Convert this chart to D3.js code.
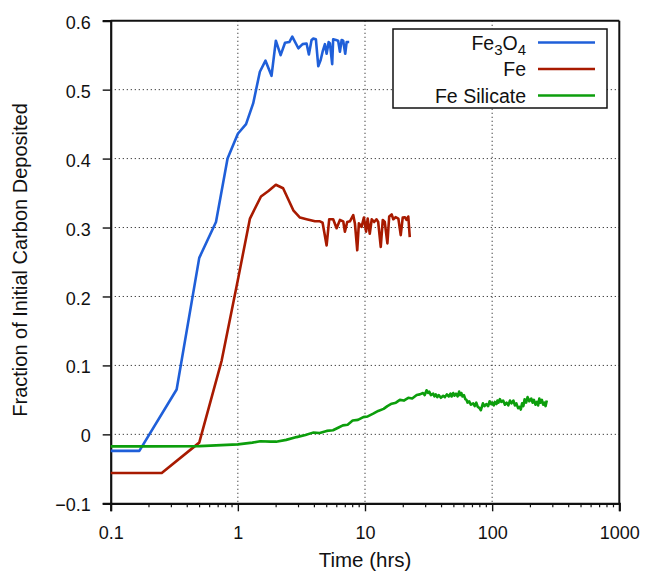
<!DOCTYPE html>
<html>
<meta charset="utf-8">
<script src="https://d3js.org/d3.v7.min.js"></script>
<style>
  body { margin: 0; background: #fff; }
  text { font-family: "Liberation Sans", Arial, sans-serif; fill: #111; }
</style>
<body>
<div id="chart"></div>
<script>

    // Fe3O4
    var fe3o4Time = [0.1, 0.168, 0.33, 0.497, 0.673, 0.83, 1.0, 1.16, 1.32, 1.49, 1.65, 1.84, 1.99, 2.17, 2.35,
      2.54, 2.68, 2.99, 3.23, 3.47, 3.62, 3.80, 3.92, 4.11, 4.29, 4.48, 4.64, 4.84, 4.99, 5.18,
      5.30, 5.52, 5.62, 5.91, 6.15, 6.35, 6.55, 6.74, 6.99, 7.17, 7.51];
    var fe3o4Frac = [-0.024, -0.024, 0.065, 0.256, 0.308, 0.40, 0.436, 0.45, 0.48, 0.526, 0.542, 0.52, 0.571, 0.55, 0.568,
      0.569, 0.577, 0.56, 0.566, 0.567, 0.551, 0.572, 0.574, 0.573, 0.534, 0.543, 0.555, 0.566, 0.552, 0.569,
      0.567, 0.537, 0.573, 0.572, 0.571, 0.555, 0.572, 0.571, 0.552, 0.569, 0.569];

    // Fe
    var feTime = [0.1, 0.252, 0.497, 0.746, 1.0, 1.245, 1.52, 1.74, 1.99, 2.27, 2.73, 3.08, 3.47, 4.04, 4.42,
      4.64, 4.99, 5.23, 5.62, 5.98, 6.35, 6.74, 6.95, 7.25, 7.61, 8.08, 8.33, 8.69, 8.95, 9.40,
      9.80, 10.2, 10.5, 10.9, 11.3, 11.8, 12.3, 12.7, 13.3, 13.8, 14.3, 15.0, 15.5, 16.2, 16.7,
      17.4, 18.3, 19.1, 19.8, 20.6, 21.2, 21.9, 22.5];
    var feFrac = [-0.056, -0.056, -0.012, 0.107, 0.224, 0.313, 0.345, 0.353, 0.362, 0.357, 0.325, 0.3145, 0.312, 0.309, 0.309,
      0.307, 0.274, 0.312, 0.312, 0.299, 0.311, 0.309, 0.294, 0.308, 0.309, 0.318, 0.306, 0.267, 0.306, 0.301,
      0.3145, 0.294, 0.313, 0.291, 0.312, 0.308, 0.312, 0.308, 0.272, 0.311, 0.308, 0.277, 0.316, 0.319, 0.312,
      0.315, 0.313, 0.289, 0.3145, 0.315, 0.311, 0.316, 0.286];

    // Fe Silicate
    var silTime = [0.1, 0.2, 0.5, 1.0, 1.3, 1.5, 1.8, 2.0, 2.4, 2.9, 3.4, 3.9, 4.4, 5.0, 5.6,
      6.2, 6.7, 7.3, 8.0, 8.8, 9.7, 10.5, 11.6, 12.7, 14.0, 15.0, 16.2, 17.5, 18.8, 20.2,
      21.9, 23.5, 25.5, 27, 28.6, 29.5, 30.5, 31.3, 32, 33, 34.4, 35.2, 36, 37, 38,
      39.5, 41.2, 42.5, 44, 45.5, 47, 48, 49.4, 50.5, 52, 53.5, 55, 56, 57.2, 58.5,
      60, 61.5, 62.8, 64, 66, 68, 71, 73, 75, 77, 79.6, 81.5, 84.6, 87, 90,
      93, 95.6, 98, 100, 103, 105, 108, 110, 112, 115, 118, 122, 126, 130, 134,
      138, 142, 147, 151, 155, 160, 165, 168, 172, 176, 180, 185, 190, 196, 203,
      208, 213, 219, 225, 230, 235, 240, 246, 252, 258, 263, 269];
    var silFrac = [-0.0175, -0.0175, -0.017, -0.0145, -0.012, -0.010, -0.0105, -0.0106, -0.008, -0.004, -0.001, 0.0025, 0.002, 0.005, 0.006,
      0.010, 0.013, 0.014, 0.020, 0.021, 0.025, 0.026, 0.030, 0.034, 0.037, 0.041, 0.0445, 0.046, 0.050, 0.049,
      0.053, 0.052, 0.057, 0.058, 0.060, 0.057, 0.064, 0.060, 0.062, 0.057, 0.059, 0.055, 0.058, 0.054, 0.057,
      0.053, 0.056, 0.054, 0.058, 0.055, 0.059, 0.055, 0.060, 0.056, 0.059, 0.055, 0.062, 0.057, 0.060, 0.055,
      0.057, 0.051, 0.050, 0.046, 0.048, 0.043, 0.045, 0.041, 0.046, 0.040, 0.038, 0.035, 0.045, 0.041, 0.044,
      0.041, 0.048, 0.044, 0.046, 0.042, 0.047, 0.044, 0.049, 0.046, 0.051, 0.047, 0.049, 0.043, 0.046, 0.042,
      0.049, 0.045, 0.049, 0.042, 0.045, 0.038, 0.040, 0.036, 0.045, 0.041, 0.051, 0.046, 0.054, 0.048, 0.052,
      0.046, 0.050, 0.043, 0.047, 0.042, 0.052, 0.046, 0.050, 0.043, 0.046, 0.041, 0.049];

    var xTicks = [0.1, 1, 10, 100, 1000];
    var yTicks = [-0.1, 0, 0.1, 0.2, 0.3, 0.4, 0.5, 0.6];

    var series = [
      { name: "Fe3O4", t: fe3o4Time, v: fe3o4Frac, color: "#1f5fd9" },
      { name: "Fe", t: feTime, v: feFrac, color: "#a81a00" },
      { name: "Fe Silicate", t: silTime, v: silFrac, color: "#0c9e0c" }
    ];

    var margin = {top: 20.7, right: 28.7, bottom: 67.7, left: 110.7},
        width = 648 - margin.left - margin.right,
        height = 571 - margin.top - margin.bottom;

    var svg = d3.select("#chart")
      .append("svg")
        .attr("width", 648)
        .attr("height", 571)
      .append("g")
        .attr("transform", "translate(" + margin.left + "," + margin.top + ")");

    var x = d3.scaleLog().domain([0.1, 1000]).range([0, width]);
    var y = d3.scaleLinear().domain([-0.1, 0.6]).range([height, 0]);

    // grid
    svg.selectAll(".vgrid")
      .data(xTicks.slice(1, -1))
      .enter().append("line")
        .attr("x1", function(d) { return x(d); })
        .attr("x2", function(d) { return x(d); })
        .attr("y1", 0).attr("y2", height)
        .attr("stroke", "#444").attr("stroke-width", 1)
        .attr("stroke-dasharray", "1.3,2.7");
    svg.selectAll(".hgrid")
      .data(yTicks.slice(1, -1))
      .enter().append("line")
        .attr("x1", 0).attr("x2", width)
        .attr("y1", function(d) { return y(d); })
        .attr("y2", function(d) { return y(d); })
        .attr("stroke", "#444").attr("stroke-width", 1)
        .attr("stroke-dasharray", "1.3,2.7");

    // axes
    var xAxis = svg.append("g")
      .attr("transform", "translate(0," + height + ")")
      .call(d3.axisBottom(x).tickValues(xTicks).tickSize(8).tickPadding(15)
        .tickFormat(function(d) { return d3.format("~g")(d); }));
    var minor = [];
    xTicks.slice(0, -1).forEach(function(d) {
      for (var k = 2; k <= 9; k++) minor.push(d * k);
    });
    xAxis.selectAll(".minor")
      .data(minor)
      .enter().append("line")
        .attr("x1", function(d) { return x(d); })
        .attr("x2", function(d) { return x(d); })
        .attr("y1", 0).attr("y2", 4)
        .attr("stroke", "#111").attr("stroke-width", 1.2);

    var yAxis = svg.append("g")
      .call(d3.axisLeft(y).tickValues(yTicks).tickSize(8).tickPadding(12)
        .tickFormat(function(d) { return d3.format("~g")(d); }));

    [xAxis, yAxis].forEach(function(a) {
      a.select(".domain").attr("stroke", "#111").attr("stroke-width", 2.2);
      a.selectAll(".tick line").attr("stroke", "#111").attr("stroke-width", 1.4);
      a.selectAll(".tick text")
        .style("font-size", "18px")
        .style("font-family", "Liberation Sans, Arial, sans-serif")
        .attr("fill", "#111");
    });
    yAxis.selectAll(".tick text").attr("dy", "0.42em");

    // top and right frame
    svg.append("line").attr("x1", 0).attr("x2", width).attr("y1", 0).attr("y2", 0)
      .attr("stroke", "#111").attr("stroke-width", 2);
    svg.append("line").attr("x1", width).attr("x2", width).attr("y1", 0).attr("y2", height)
      .attr("stroke", "#111").attr("stroke-width", 2);

    // lines
    var line = d3.line()
      .x(function(d) { return x(d[0]); })
      .y(function(d) { return y(d[1]); });

    series.forEach(function(s) {
      svg.append("path")
        .datum(d3.zip(s.t, s.v))
        .attr("fill", "none")
        .attr("stroke", s.color)
        .attr("stroke-width", 2.6)
        .attr("stroke-linejoin", "round")
        .attr("d", line);
    });

    // axis titles
    svg.append("text")
      .attr("x", width / 2)
      .attr("y", height + 64)
      .attr("text-anchor", "middle")
      .style("font-size", "20.5px")
      .text("Time (hrs)");

    svg.append("text")
      .attr("transform", "rotate(-90)")
      .attr("x", -height / 2 + 2)
      .attr("y", -84)
      .attr("text-anchor", "middle")
      .style("font-size", "20px")
      .text("Fraction of Initial Carbon Deposited");

    // legend
    var lx = 393 - margin.left, ly = 29 - margin.top;
    var legend = svg.append("g").attr("transform", "translate(" + lx + "," + ly + ")");
    legend.append("rect")
      .attr("width", 214).attr("height", 79)
      .attr("fill", "#fff").attr("stroke", "#111").attr("stroke-width", 1.5);

    series.forEach(function(s, i) {
      var cy = 13.5 + i * 26.5;
      legend.append("line")
        .attr("x1", 145).attr("x2", 202)
        .attr("y1", cy).attr("y2", cy)
        .attr("stroke", s.color).attr("stroke-width", 2.6);
      var t = legend.append("text")
        .attr("x", 133).attr("y", cy + 7)
        .attr("text-anchor", "end")
        .style("font-size", "19.5px");
      if (s.name === "Fe3O4") {
        t.append("tspan").text("Fe");
        t.append("tspan").attr("dy", 5).style("font-size", "15px").text("3");
        t.append("tspan").attr("dy", -5).text("O");
        t.append("tspan").attr("dy", 5).style("font-size", "15px").text("4");
      } else {
        t.text(s.name);
      }
    });

</script>
</body>
</html>
